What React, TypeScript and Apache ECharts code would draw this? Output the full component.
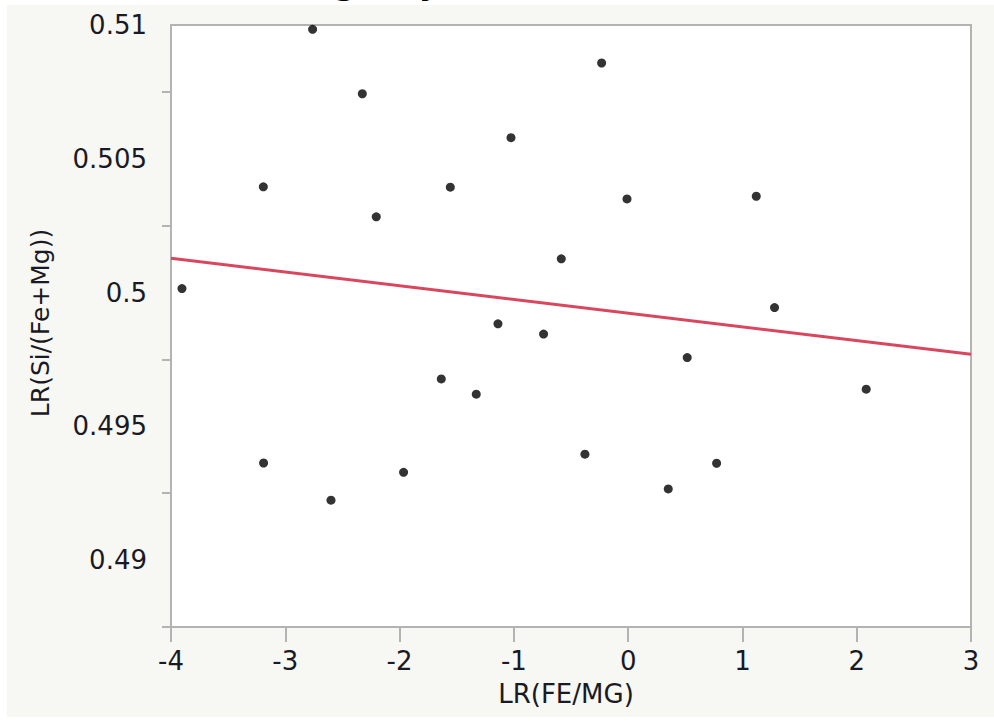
import React, { useEffect, useRef } from "react";
import * as echarts from "echarts";

const xValues = [-3.904, -3.192, -3.19, -2.761, -2.6, -2.326, -2.204, -1.965, -1.635, -1.556, -1.329, -1.139, -1.025, -0.74, -0.585, -0.378, -0.232, -0.01, 0.351, 0.517, 0.774, 1.121, 1.281, 2.083];
const yValues = [0.50015, 0.50395, 0.49363, 0.50984, 0.49224, 0.50743, 0.50283, 0.49328, 0.49677, 0.50394, 0.4962, 0.49883, 0.50579, 0.49845, 0.50126, 0.49396, 0.50858, 0.5035, 0.49266, 0.49757, 0.49362, 0.5036, 0.49944, 0.49639];
const fitX = [-4, 3];
const fitY = [0.50128, 0.49769];
const yMajorTicks = [0.49, 0.495, 0.5, 0.505, 0.51];
const yMinorTicks = [0.4875, 0.4925, 0.4975, 0.5025, 0.5075];
const xTicks = [-4, -3, -2, -1, 0, 1, 2, 3];

const titleText = "Bivariate Fit of LR(Si/(Fe+Mg)) By LR(FE/MG)";
const xTitle = "LR(FE/MG)";
const yTitle = "LR(Si/(Fe+Mg))";

const FONT = "'DejaVu Sans', sans-serif";
const AXIS_GREY = "#b3b3b3";
const TEXT = "#1a1a24";

export default function App() {
  const ref = useRef<HTMLDivElement>(null);
  useEffect(() => {
    if (!ref.current) return;
    const chart = echarts.init(ref.current, null, { renderer: "svg" });
    const points = xValues.map((x, i) => [x, yValues[i]]);
    const fit = fitX.map((x, i) => [x, fitY[i]]);
    chart.setOption({
      animation: false,
      backgroundColor: "#ffffff",
      grid: {
        left: 171,
        right: 23,
        top: 25,
        bottom: 95,
        show: true,
        backgroundColor: "#ffffff",
        borderColor: AXIS_GREY,
        borderWidth: 2,
        z: 1,
      },
      xAxis: {
        type: "value",
        min: -4,
        max: 3,
        interval: 1,
        axisLine: { show: true, lineStyle: { color: AXIS_GREY, width: 2 } },
        axisTick: { show: true, length: 15, lineStyle: { color: AXIS_GREY, width: 2 }, customValues: xTicks },
        axisLabel: {
          color: TEXT,
          fontFamily: FONT,
          fontSize: 26,
          margin: 21,
          customValues: xTicks,
          formatter: (v: number) => String(v),
        },
        splitLine: { show: false },
      },
      yAxis: [
        {
          type: "value",
          min: 0.4875,
          max: 0.51,
          axisLine: { show: true, lineStyle: { color: AXIS_GREY, width: 2 } },
          axisTick: { show: true, length: 15, lineStyle: { color: AXIS_GREY, width: 2 }, customValues: yMajorTicks },
          axisLabel: {
            color: TEXT,
            fontFamily: FONT,
            fontSize: 26,
            margin: 24,
            customValues: yMajorTicks,
            formatter: (v: number) => String(+v.toFixed(4)),
          },
          splitLine: { show: false },
        },
        {
          type: "value",
          position: "left",
          min: 0.4875,
          max: 0.51,
          axisLine: { show: false },
          axisTick: { show: true, length: 9, lineStyle: { color: AXIS_GREY, width: 2 }, customValues: yMinorTicks },
          axisLabel: { show: false },
          splitLine: { show: false },
        },
      ],
      graphic: [
        {
          type: "rect",
          z: -100,
          silent: true,
          shape: { x: 7, y: 5, width: 987, height: 712 },
          style: { fill: "#f7f7f3" },
        },
        {
          type: "text",
          z: 100,
          x: 632,
          y: -16,
          style: {
            text: titleText,
            fill: "#000",
            font: `bold 31px ${FONT}`,
            textAlign: "right",
            textVerticalAlign: "middle",
          },
        },
        {
          type: "text",
          z: 100,
          x: 566,
          y: 694,
          style: {
            text: xTitle,
            fill: TEXT,
            font: `26px ${FONT}`,
            textAlign: "center",
            textVerticalAlign: "middle",
          },
        },
        {
          type: "text",
          z: 100,
          x: 40,
          y: 323,
          rotation: Math.PI / 2,
          style: {
            text: yTitle,
            fill: TEXT,
            font: `25px ${FONT}`,
            textAlign: "center",
            textVerticalAlign: "middle",
          },
        },
      ],
      series: [
        {
          type: "line",
          data: fit,
          showSymbol: false,
          symbol: "none",
          lineStyle: { color: "#d9475f", width: 3 },
          z: 3,
        },
        {
          type: "scatter",
          data: points,
          symbol: "circle",
          symbolSize: 9,
          itemStyle: { color: "#000000" },
          z: 4,
        },
      ],
    });
    return () => chart.dispose();
  }, []);
  return (
    <div
      ref={ref}
      style={{ position: "fixed", left: 0, top: 0, width: 994, height: 722 }}
    />
  );
}
